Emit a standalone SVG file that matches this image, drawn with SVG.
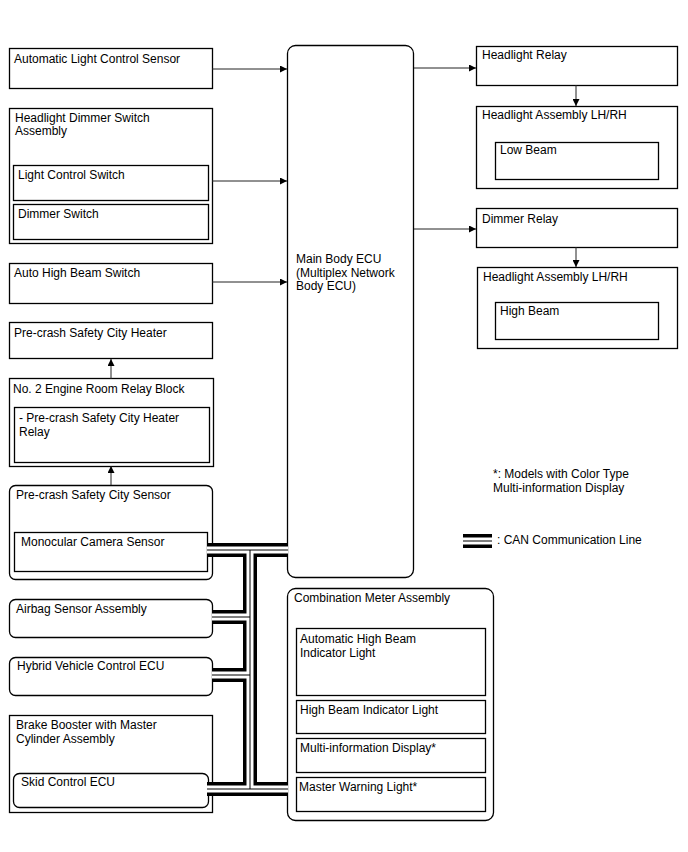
<svg xmlns="http://www.w3.org/2000/svg" width="688" height="852" viewBox="0 0 688 852">
<defs>
<style>
.box{fill:#fff;stroke:#000;stroke-width:1.3}
text{font-family:"Liberation Sans",Arial,sans-serif;font-size:12px;fill:#000}
.ln{fill:none;stroke:#222;stroke-width:1}
.canO{fill:none;stroke:#000;stroke-width:14}
.canW{fill:none;stroke:#fff;stroke-width:7}
.canC{fill:none;stroke:#000;stroke-width:1}
</style>
<marker id="ah" viewBox="0 0 10 10" refX="10" refY="5" markerWidth="10" markerHeight="7" markerUnits="userSpaceOnUse" orient="auto"><path d="M0,0L10,5L0,10z" fill="#000"/></marker>
<path id="bus" d="M207,550H288M250,550V789M212,617H250M212,675H250M207,789H288"/>
<path id="leg" d="M463,541H492"/>
</defs>
<rect width="688" height="852" fill="#fff"/>

<g id="auto-light-sensor"><rect class="box" x="9.5" y="48.5" width="203" height="40"/><text x="14" y="63">Automatic Light Control Sensor</text></g>
<g id="dimmer-switch-assy"><rect class="box" x="9.5" y="108.5" width="203" height="135"/><text x="15" y="122">Headlight Dimmer Switch</text><text x="15" y="135">Assembly</text>
<g id="light-control-switch"><rect class="box" x="13.5" y="165.5" width="195" height="35"/><text x="18" y="179">Light Control Switch</text></g>
<g id="dimmer-switch"><rect class="box" x="13.5" y="204.5" width="195" height="35"/><text x="18" y="218">Dimmer Switch</text></g></g>
<g id="auto-high-beam-switch"><rect class="box" x="9.5" y="263.5" width="203" height="40"/><text x="14" y="277">Auto High Beam Switch</text></g>
<g id="heater"><rect class="box" x="9.5" y="322.5" width="203" height="36"/><text x="14" y="337">Pre-crash Safety City Heater</text></g>
<g id="relay-block"><rect class="box" x="9.5" y="378.5" width="204" height="88"/><text x="13" y="393">No. 2 Engine Room Relay Block</text>
<g id="heater-relay"><rect class="box" x="14.5" y="407.5" width="195" height="55"/><text x="19" y="422">- Pre-crash Safety City Heater</text><text x="19" y="436">Relay</text></g></g>
<g id="pcs-sensor"><rect class="box" x="9.5" y="485.5" width="203" height="94" rx="6"/><text x="16" y="499">Pre-crash Safety City Sensor</text>
<g id="camera"><rect class="box" x="14.5" y="532.5" width="193" height="39"/><text x="21" y="546">Monocular Camera Sensor</text></g></g>
<g id="airbag"><rect class="box" x="9.5" y="599.5" width="203" height="38" rx="6"/><text x="16" y="613">Airbag Sensor Assembly</text></g>
<g id="hv-ecu"><rect class="box" x="9.5" y="657.5" width="203" height="38" rx="6"/><text x="17" y="670">Hybrid Vehicle Control ECU</text></g>
<g id="brake-booster"><rect class="box" x="9.5" y="715.5" width="203" height="97"/><text x="16" y="729">Brake Booster with Master</text><text x="16" y="743">Cylinder Assembly</text>
<g id="skid-ecu"><rect class="box" x="13.5" y="773.5" width="195" height="34" rx="6"/><text x="21" y="786">Skid Control ECU</text></g></g>

<g id="main-body-ecu"><rect class="box" x="287.5" y="45.5" width="126" height="532" rx="8"/><text x="296" y="263">Main Body ECU</text><text x="296" y="277">(Multiplex Network</text><text x="296" y="290">Body ECU)</text></g>

<g id="headlight-relay"><rect class="box" x="476.5" y="46.5" width="201" height="39"/><text x="482" y="59">Headlight Relay</text></g>
<g id="headlight-assy-low"><rect class="box" x="476.5" y="106.5" width="201" height="82"/><text x="482" y="119">Headlight Assembly LH/RH</text>
<g id="low-beam"><rect class="box" x="495.5" y="142.5" width="163" height="37"/><text x="500" y="154">Low Beam</text></g></g>
<g id="dimmer-relay"><rect class="box" x="476.5" y="208.5" width="201" height="39"/><text x="482" y="223">Dimmer Relay</text></g>
<g id="headlight-assy-high"><rect class="box" x="477.5" y="267.5" width="200" height="81"/><text x="483" y="281">Headlight Assembly LH/RH</text>
<g id="high-beam"><rect class="box" x="495.5" y="302.5" width="163" height="37"/><text x="500" y="315">High Beam</text></g></g>

<g id="combination-meter"><rect class="box" x="287.5" y="588.5" width="206" height="232" rx="8"/><text x="294" y="602">Combination Meter Assembly</text>
<g id="ahb-indicator"><rect class="box" x="296.5" y="628.5" width="189" height="67"/><text x="300" y="643">Automatic High Beam</text><text x="300" y="657">Indicator Light</text></g>
<g id="hb-indicator"><rect class="box" x="296.5" y="700.5" width="189" height="33"/><text x="300" y="714">High Beam Indicator Light</text></g>
<g id="mid"><rect class="box" x="296.5" y="738.5" width="189" height="34"/><text x="300" y="752">Multi-information Display*</text></g>
<g id="master-warning"><rect class="box" x="296.5" y="777.5" width="189" height="34"/><text x="299" y="791">Master Warning Light*</text></g></g>

<g id="legend"><text x="493" y="478">*: Models with Color Type</text><text x="493" y="492">Multi-information Display</text>
<use href="#leg" class="canO"/><use href="#leg" class="canW"/><use href="#leg" class="canC"/>
<text x="497" y="544">: CAN Communication Line</text></g>

<g id="connectors">
<path class="ln" d="M212,69H287" marker-end="url(#ah)"/>
<path class="ln" d="M212,181H287" marker-end="url(#ah)"/>
<path class="ln" d="M212,282H287" marker-end="url(#ah)"/>
<path class="ln" d="M414,68H476" marker-end="url(#ah)"/>
<path class="ln" d="M414,229H476" marker-end="url(#ah)"/>
<path class="ln" d="M576,85V106" marker-end="url(#ah)"/>
<path class="ln" d="M576,247V267" marker-end="url(#ah)"/>
<path class="ln" d="M111,379V359" marker-end="url(#ah)"/>
<path class="ln" d="M111,485V466" marker-end="url(#ah)"/>
<g id="can-bus"><use href="#bus" class="canO"/><use href="#bus" class="canW"/><use href="#bus" class="canC"/></g>
</g>
</svg>
